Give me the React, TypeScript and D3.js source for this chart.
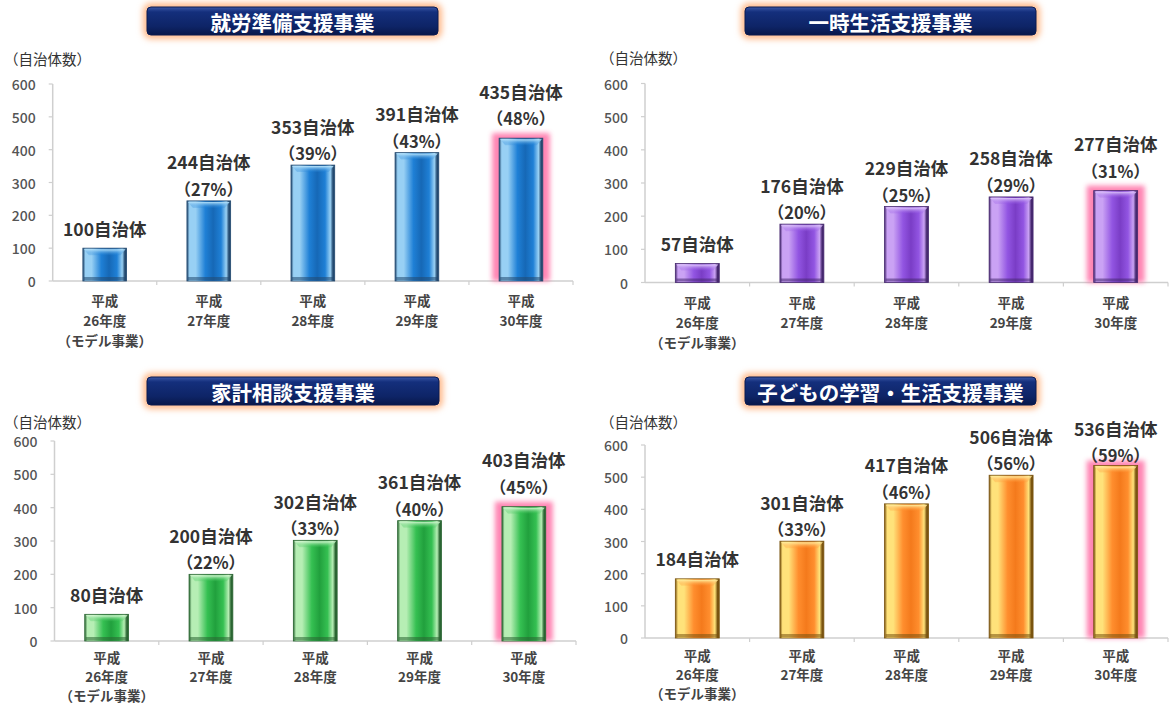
import React from "react";
import * as d3 from "d3";

const categories = ["平成\n26年度\n（モデル事業）", "平成\n27年度", "平成\n28年度", "平成\n29年度", "平成\n30年度"];
const yTicks = [0, 100, 200, 300, 400, 500, 600];

const titles = ["就労準備支援事業", "一時生活支援事業", "家計相談支援事業", "子どもの学習・生活支援事業"];

const shuroValues = [100, 244, 353, 391, 435];
const shuroPct = ["", "27%", "39%", "43%", "48%"];
const ichijiValues = [57, 176, 229, 258, 277];
const ichijiPct = ["", "20%", "25%", "29%", "31%"];
const kakeiValues = [80, 200, 302, 361, 403];
const kakeiPct = ["", "22%", "33%", "40%", "45%"];
const kodomoValues = [184, 301, 417, 506, 536];
const kodomoPct = ["", "33%", "46%", "56%", "59%"];

const FONT = "'Noto Sans CJK JP', 'Noto Sans', sans-serif";

type Palette = { edge: string; light: string; mid: string; deep: string; cap: string };
const palettes: Record<string, Palette> = {
  blue: { edge: "#23496f", light: "#98d0f4", mid: "#1f80d6", deep: "#1668b6", cap: "#b8e4fb" },
  purple: { edge: "#46286f", light: "#caa2f4", mid: "#9255e2", deep: "#7a3dc6", cap: "#e0c8fb" },
  green: { edge: "#2a6532", light: "#b6eeb4", mid: "#35c052", deep: "#21a03d", cap: "#d8f8d4" },
  orange: { edge: "#7a5410", light: "#ffe27a", mid: "#ff8e2e", deep: "#f47a1c", cap: "#fff0a0" },
};

type PanelProps = {
  id: string;
  title: string;
  values: number[];
  pct: string[];
  palette: Palette;
  axisX: number;
  xEnd: number;
  y0: number;
  yTop: number;
  titleBox: { x: number; y: number; w: number; h: number };
  unit: { x: number; y: number };
  xLabelY: number;
  lineGap: number;
  panelTop: number;
};

function Panel(p: PanelProps) {
  const x = d3.scaleBand<string>().domain(categories).range([p.axisX, p.xEnd]).padding(0);
  const y = d3.scaleLinear().domain([0, 600]).range([p.y0, p.yTop]);
  const bw = x.bandwidth() * 0.42;
  const pal = p.palette;
  return (
    <g>
      <defs>
        <linearGradient id={`bar-${p.id}`} x1="0" x2="1" y1="0" y2="0">
          <stop offset="0%" stopColor={pal.edge} />
          <stop offset="6%" stopColor={pal.light} />
          <stop offset="20%" stopColor={pal.light} />
          <stop offset="42%" stopColor={pal.mid} />
          <stop offset="60%" stopColor={pal.deep} />
          <stop offset="78%" stopColor={pal.mid} />
          <stop offset="90%" stopColor={pal.light} />
          <stop offset="96%" stopColor={pal.edge} />
          <stop offset="100%" stopColor={pal.edge} />
        </linearGradient>
        <linearGradient id={`cap-${p.id}`} x1="0" x2="0" y1="0" y2="1">
          <stop offset="0%" stopColor={pal.cap} />
          <stop offset="100%" stopColor={pal.mid} stopOpacity={0.2} />
        </linearGradient>
        <linearGradient id={`title-${p.id}`} x1="0" x2="0" y1="0" y2="1">
          <stop offset="0%" stopColor="#3a56a6" />
          <stop offset="18%" stopColor="#142f7c" />
          <stop offset="70%" stopColor="#0e2466" />
          <stop offset="100%" stopColor="#08174a" />
        </linearGradient>
      </defs>
      {/* title box */}
      <rect
        x={p.titleBox.x - 4}
        y={p.titleBox.y - 4}
        width={p.titleBox.w + 8}
        height={p.titleBox.h + 8}
        rx={8}
        fill="#ffb98a"
        filter="url(#glowOrange)"
      />
      <rect
        x={p.titleBox.x}
        y={p.titleBox.y}
        width={p.titleBox.w}
        height={p.titleBox.h}
        rx={4}
        fill={`url(#title-${p.id})`}
        stroke="#0a1a50"
        strokeWidth={1}
      />
      <text
        x={p.titleBox.x + p.titleBox.w / 2}
        y={p.titleBox.y + p.titleBox.h / 2 + 1}
        textAnchor="middle"
        dominantBaseline="central"
        fill="#ffffff"
        fontFamily={FONT}
        fontWeight={700}
        fontSize={20.5}
      >
        {p.title}
      </text>
      {/* unit */}
      <text x={p.unit.x} y={p.unit.y} dominantBaseline="central" fill="#333" fontFamily={FONT} fontSize={14.5}>
        （自治体数）
      </text>
      {/* y axis */}
      <line x1={p.axisX} x2={p.axisX} y1={p.yTop} y2={p.y0} stroke="#cfcfcf" strokeWidth={1.5} />
      {yTicks.map((t) => (
        <g key={t}>
          <line x1={p.axisX - 4} x2={p.axisX} y1={y(t)} y2={y(t)} stroke="#cfcfcf" strokeWidth={1.2} />
          <text
            x={p.axisX - 17}
            y={y(t)}
            textAnchor="end"
            dominantBaseline="central"
            fill="#555"
            fontFamily={FONT}
            fontWeight={500}
            fontSize={14}
          >
            {t}
          </text>
        </g>
      ))}
      {/* x axis */}
      <line x1={p.axisX} x2={p.xEnd} y1={p.y0} y2={p.y0} stroke="#cfcfcf" strokeWidth={1.5} />
      {categories.map((c, i) => (
        <line
          key={"t" + i}
          x1={(x(c) as number) + x.bandwidth()}
          x2={(x(c) as number) + x.bandwidth()}
          y1={p.y0}
          y2={p.y0 + 4}
          stroke="#cfcfcf"
          strokeWidth={1.2}
        />
      ))}
      {/* bars */}
      {categories.map((c, i) => {
        const v = p.values[i];
        const cx = (x(c) as number) + x.bandwidth() / 2;
        const top = y(v);
        const h = p.y0 - top;
        const last = i === categories.length - 1;
        return (
          <g key={"b" + i}>
            {last && (
              <rect
                x={cx - bw / 2 - 7}
                y={top - 5}
                width={bw + 14}
                height={h + 5}
                fill="#ff6fa6"
                opacity={0.85}
                filter="url(#glowPink)"
              />
            )}
            <rect x={cx - bw / 2} y={top} width={bw} height={h} fill={`url(#bar-${p.id})`} stroke={pal.edge} strokeWidth={0.8} />
            <path
              d={`M${cx - bw / 2 + 1},${top + 1} L${cx + bw / 2 - 1},${top + 1} L${cx + bw / 2 - 6},${top + 7} L${cx - bw / 2 + 6},${top + 7} Z`}
              fill={`url(#cap-${p.id})`}
            />
            <rect x={cx - bw / 2 + 1} y={p.y0 - 4} width={bw - 2} height={3} fill={pal.edge} opacity={0.55} />
          </g>
        );
      })}
      {/* value labels */}
      {categories.map((c, i) => {
        const v = p.values[i];
        const cx = (x(c) as number) + x.bandwidth() / 2;
        const top = y(v);
        const last = i === categories.length - 1;
        const hasPct = p.pct[i] !== "";
        let nameY = hasPct ? top - 39 - (last ? 8 : 0) : top - 20;
        nameY = Math.max(nameY, p.panelTop + 68);
        const pctY = nameY + 27;
        return (
          <g key={"l" + i} fontFamily={FONT} fontWeight={700} fill="#333" textAnchor="middle">
            <text x={cx} y={nameY} dominantBaseline="central" fontSize={17.5}>
              {`${v}自治体`}
            </text>
            {hasPct && (
              <text x={cx} y={pctY} dominantBaseline="central" fontSize={16.5}>
                {`（${p.pct[i]}）`}
              </text>
            )}
          </g>
        );
      })}
      {/* x labels */}
      {categories.map((c, i) => {
        const cx = (x(c) as number) + x.bandwidth() / 2;
        return (
          <text key={"x" + i} textAnchor="middle" fill="#444" fontFamily={FONT} fontWeight={700} fontSize={13.5}>
            {c.split("\n").map((line, j) => (
              <tspan key={j} x={cx} y={p.xLabelY + j * p.lineGap} dominantBaseline="central">
                {line}
              </tspan>
            ))}
          </text>
        );
      })}
    </g>
  );
}

export default function App() {
  return (
    <svg
      width={1171}
      height={706}
      viewBox="0 0 1171 706"
      style={{ position: "absolute", left: 0, top: 0, background: "#fff" }}
    >
      <defs>
        <filter id="glowOrange" x="-20%" y="-60%" width="140%" height="220%">
          <feGaussianBlur stdDeviation="3" />
        </filter>
        <filter id="glowPink" x="-50%" y="-20%" width="200%" height="140%">
          <feGaussianBlur stdDeviation="2.5" />
        </filter>
      </defs>
      <rect x={0} y={0} width={1171} height={706} fill="#fff" />
      <Panel
        id="p1"
        title={titles[0]}
        values={shuroValues}
        pct={shuroPct}
        palette={palettes.blue}
        axisX={52.7}
        xEnd={573}
        y0={281}
        yTop={84}
        titleBox={{ x: 147, y: 7, w: 291, h: 28 }}
        unit={{ x: 4, y: 58 }}
        xLabelY={300}
        lineGap={20}
        panelTop={0}
      />
      <Panel
        id="p2"
        title={titles[1]}
        values={ichijiValues}
        pct={ichijiPct}
        palette={palettes.purple}
        axisX={645}
        xEnd={1168}
        y0={282.5}
        yTop={83.5}
        titleBox={{ x: 745, y: 7, w: 291, h: 28 }}
        unit={{ x: 600, y: 57 }}
        xLabelY={302}
        lineGap={20}
        panelTop={0}
      />
      <Panel
        id="p3"
        title={titles[2]}
        values={kakeiValues}
        pct={kakeiPct}
        palette={palettes.green}
        axisX={54.5}
        xEnd={576}
        y0={641}
        yTop={441}
        titleBox={{ x: 147, y: 377, w: 292, h: 28 }}
        unit={{ x: 4, y: 421.5 }}
        xLabelY={657}
        lineGap={19}
        panelTop={360}
      />
      <Panel
        id="p4"
        title={titles[3]}
        values={kodomoValues}
        pct={kodomoPct}
        palette={palettes.orange}
        axisX={645}
        xEnd={1168}
        y0={638}
        yTop={445}
        titleBox={{ x: 745, y: 377, w: 291, h: 28 }}
        unit={{ x: 600, y: 421.5 }}
        xLabelY={655}
        lineGap={19}
        panelTop={360}
      />
    </svg>
  );
}
